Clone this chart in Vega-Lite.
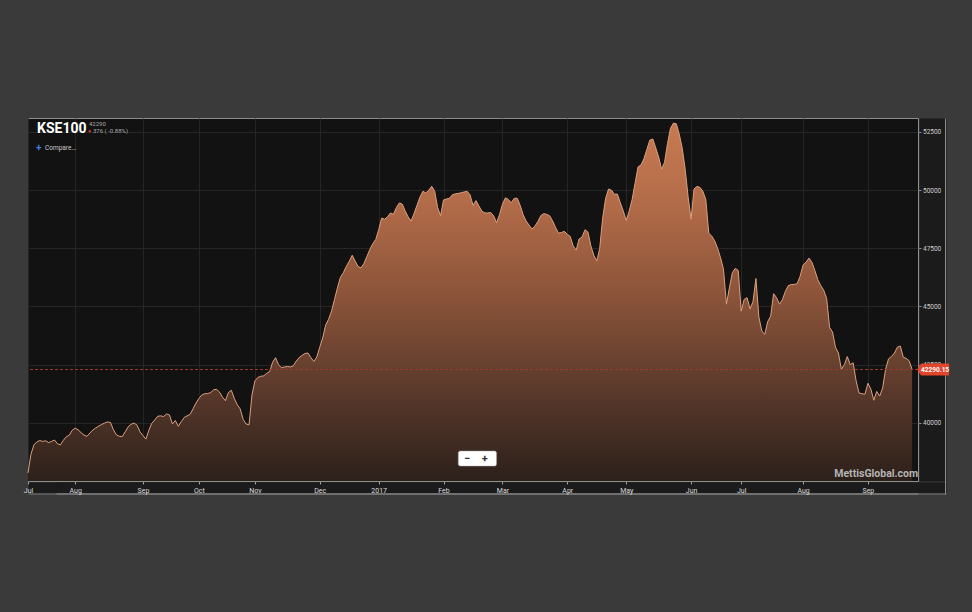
{
  "$schema": "https://vega.github.io/schema/vega-lite/v6.json",
  "width": 890,
  "height": 363,
  "autosize": {"type": "none"},
  "padding": {"left": 28, "top": 118, "right": 54, "bottom": 131},
  "background": "#3a3a3a",
  "config": {
    "view": {"fill": "#121212", "stroke": "#8e8e8e", "strokeWidth": 1},
    "font": "Roboto",
    "axis": {"labelFont": "Roboto"}
  },
  "resolve": {"axis": {"x": "independent", "y": "independent"}},
  "data": {"values": [
    {"date":"2016-07-01","close":37850},{"date":"2016-07-11","close":38650},{"date":"2016-07-12","close":39050},{"date":"2016-07-13","close":39180},{"date":"2016-07-14","close":39240},{"date":"2016-07-15","close":39200},{"date":"2016-07-18","close":39230},{"date":"2016-07-19","close":39150},{"date":"2016-07-20","close":39200},{"date":"2016-07-21","close":39260},{"date":"2016-07-22","close":39100},{"date":"2016-07-25","close":39050},{"date":"2016-07-26","close":39250},{"date":"2016-07-27","close":39400},{"date":"2016-07-28","close":39470},{"date":"2016-07-29","close":39680},
    {"date":"2016-08-01","close":39770},{"date":"2016-08-02","close":39700},{"date":"2016-08-03","close":39580},{"date":"2016-08-04","close":39470},{"date":"2016-08-05","close":39420},{"date":"2016-08-08","close":39560},{"date":"2016-08-09","close":39690},{"date":"2016-08-10","close":39780},{"date":"2016-08-11","close":39860},{"date":"2016-08-12","close":39930},{"date":"2016-08-15","close":39990},{"date":"2016-08-16","close":40040},{"date":"2016-08-17","close":40010},{"date":"2016-08-18","close":39700},{"date":"2016-08-19","close":39480},{"date":"2016-08-22","close":39420},{"date":"2016-08-23","close":39410},{"date":"2016-08-24","close":39620},{"date":"2016-08-25","close":39830},{"date":"2016-08-26","close":39940},{"date":"2016-08-29","close":39990},{"date":"2016-08-30","close":39900},{"date":"2016-08-31","close":39620},
    {"date":"2016-09-01","close":39450},{"date":"2016-09-02","close":39300},{"date":"2016-09-05","close":39680},{"date":"2016-09-06","close":39980},{"date":"2016-09-07","close":40120},{"date":"2016-09-08","close":40280},{"date":"2016-09-09","close":40300},{"date":"2016-09-15","close":40270},{"date":"2016-09-16","close":40380},{"date":"2016-09-19","close":40340},{"date":"2016-09-20","close":39950},{"date":"2016-09-21","close":40100},{"date":"2016-09-22","close":39850},{"date":"2016-09-23","close":40050},{"date":"2016-09-26","close":40230},{"date":"2016-09-27","close":40300},{"date":"2016-09-28","close":40360},{"date":"2016-09-29","close":40600},{"date":"2016-09-30","close":40850},
    {"date":"2016-10-03","close":41050},{"date":"2016-10-04","close":41200},{"date":"2016-10-05","close":41250},{"date":"2016-10-06","close":41260},{"date":"2016-10-07","close":41300},{"date":"2016-10-10","close":41420},{"date":"2016-10-13","close":41440},{"date":"2016-10-14","close":41320},{"date":"2016-10-17","close":41100},{"date":"2016-10-18","close":40950},{"date":"2016-10-19","close":41300},{"date":"2016-10-20","close":41400},{"date":"2016-10-21","close":41050},{"date":"2016-10-24","close":40780},{"date":"2016-10-25","close":40600},{"date":"2016-10-26","close":40150},{"date":"2016-10-27","close":39950},{"date":"2016-10-28","close":39910},{"date":"2016-10-31","close":41200},
    {"date":"2016-11-01","close":41800},{"date":"2016-11-02","close":41950},{"date":"2016-11-03","close":42000},{"date":"2016-11-04","close":42020},{"date":"2016-11-07","close":42130},{"date":"2016-11-08","close":42200},{"date":"2016-11-09","close":42600},{"date":"2016-11-10","close":42800},{"date":"2016-11-11","close":42500},{"date":"2016-11-14","close":42370},{"date":"2016-11-15","close":42400},{"date":"2016-11-16","close":42420},{"date":"2016-11-17","close":42400},{"date":"2016-11-18","close":42450},{"date":"2016-11-21","close":42650},{"date":"2016-11-22","close":42800},{"date":"2016-11-23","close":42900},{"date":"2016-11-24","close":42980},{"date":"2016-11-25","close":43000},{"date":"2016-11-28","close":42800},{"date":"2016-11-29","close":42640},{"date":"2016-11-30","close":42830},
    {"date":"2016-12-01","close":43250},{"date":"2016-12-02","close":43650},{"date":"2016-12-05","close":44200},{"date":"2016-12-06","close":44450},{"date":"2016-12-07","close":44800},{"date":"2016-12-08","close":45300},{"date":"2016-12-09","close":45800},{"date":"2016-12-13","close":46250},{"date":"2016-12-14","close":46450},{"date":"2016-12-15","close":46720},{"date":"2016-12-16","close":46940},{"date":"2016-12-19","close":47200},{"date":"2016-12-20","close":46950},{"date":"2016-12-21","close":46720},{"date":"2016-12-22","close":46660},{"date":"2016-12-23","close":46850},{"date":"2016-12-27","close":47150},{"date":"2016-12-28","close":47450},{"date":"2016-12-29","close":47700},{"date":"2016-12-30","close":47880},
    {"date":"2017-01-02","close":48300},{"date":"2017-01-03","close":48800},{"date":"2017-01-04","close":48750},{"date":"2017-01-05","close":48850},{"date":"2017-01-06","close":49020},{"date":"2017-01-09","close":48960},{"date":"2017-01-10","close":49250},{"date":"2017-01-11","close":49450},{"date":"2017-01-12","close":49400},{"date":"2017-01-13","close":49100},{"date":"2017-01-16","close":48850},{"date":"2017-01-17","close":48670},{"date":"2017-01-18","close":49000},{"date":"2017-01-19","close":49350},{"date":"2017-01-20","close":49700},{"date":"2017-01-23","close":49950},{"date":"2017-01-24","close":49880},{"date":"2017-01-25","close":50000},{"date":"2017-01-26","close":50170},{"date":"2017-01-27","close":49950},{"date":"2017-01-30","close":49250},{"date":"2017-01-31","close":48900},
    {"date":"2017-02-01","close":49580},{"date":"2017-02-02","close":49620},{"date":"2017-02-03","close":49650},{"date":"2017-02-06","close":49800},{"date":"2017-02-07","close":49840},{"date":"2017-02-08","close":49860},{"date":"2017-02-09","close":49890},{"date":"2017-02-10","close":49920},{"date":"2017-02-13","close":49950},{"date":"2017-02-14","close":49800},{"date":"2017-02-15","close":49350},{"date":"2017-02-16","close":49550},{"date":"2017-02-17","close":49320},{"date":"2017-02-20","close":49100},{"date":"2017-02-21","close":49020},{"date":"2017-02-22","close":49020},{"date":"2017-02-23","close":49040},{"date":"2017-02-24","close":48900},{"date":"2017-02-27","close":48600},{"date":"2017-02-28","close":48950},
    {"date":"2017-03-01","close":49400},{"date":"2017-03-02","close":49670},{"date":"2017-03-03","close":49600},{"date":"2017-03-06","close":49460},{"date":"2017-03-07","close":49650},{"date":"2017-03-08","close":49650},{"date":"2017-03-09","close":49350},{"date":"2017-03-10","close":48950},{"date":"2017-03-13","close":48680},{"date":"2017-03-14","close":48500},{"date":"2017-03-15","close":48330},{"date":"2017-03-16","close":48450},{"date":"2017-03-17","close":48650},{"date":"2017-03-20","close":48900},{"date":"2017-03-21","close":48990},{"date":"2017-03-22","close":48960},{"date":"2017-03-24","close":48900},{"date":"2017-03-27","close":48680},{"date":"2017-03-28","close":48400},{"date":"2017-03-29","close":48150},{"date":"2017-03-30","close":48180},{"date":"2017-03-31","close":48230},
    {"date":"2017-04-03","close":48100},{"date":"2017-04-04","close":48010},{"date":"2017-04-05","close":47600},{"date":"2017-04-06","close":47420},{"date":"2017-04-07","close":47900},{"date":"2017-04-10","close":47980},{"date":"2017-04-11","close":48300},{"date":"2017-04-12","close":48200},{"date":"2017-04-13","close":47600},{"date":"2017-04-14","close":47200},{"date":"2017-04-17","close":46950},{"date":"2017-04-18","close":47500},{"date":"2017-04-19","close":48800},{"date":"2017-04-20","close":49650},{"date":"2017-04-21","close":50050},{"date":"2017-04-24","close":50000},{"date":"2017-04-25","close":49820},{"date":"2017-04-26","close":49830},{"date":"2017-04-27","close":49450},{"date":"2017-04-28","close":49100},
    {"date":"2017-05-02","close":48700},{"date":"2017-05-03","close":49100},{"date":"2017-05-04","close":49600},{"date":"2017-05-05","close":50300},{"date":"2017-05-08","close":51000},{"date":"2017-05-09","close":51080},{"date":"2017-05-10","close":51350},{"date":"2017-05-11","close":51750},{"date":"2017-05-12","close":52150},{"date":"2017-05-15","close":52200},{"date":"2017-05-16","close":51820},{"date":"2017-05-17","close":51420},{"date":"2017-05-18","close":50900},{"date":"2017-05-19","close":51200},{"date":"2017-05-22","close":52000},{"date":"2017-05-23","close":52650},{"date":"2017-05-24","close":52880},{"date":"2017-05-25","close":52850},{"date":"2017-05-26","close":52400},{"date":"2017-05-29","close":51800},{"date":"2017-05-30","close":50900},{"date":"2017-05-31","close":49700},
    {"date":"2017-06-01","close":48750},{"date":"2017-06-02","close":50050},{"date":"2017-06-05","close":50160},{"date":"2017-06-06","close":50120},{"date":"2017-06-07","close":49950},{"date":"2017-06-08","close":49600},{"date":"2017-06-09","close":48150},{"date":"2017-06-12","close":48030},{"date":"2017-06-13","close":47820},{"date":"2017-06-14","close":47500},{"date":"2017-06-15","close":47100},{"date":"2017-06-16","close":46600},{"date":"2017-06-19","close":45100},{"date":"2017-06-20","close":45800},{"date":"2017-06-21","close":46450},{"date":"2017-06-22","close":46640},{"date":"2017-06-23","close":46550},
    {"date":"2017-07-03","close":44800},{"date":"2017-07-04","close":45300},{"date":"2017-07-05","close":45380},{"date":"2017-07-06","close":44900},{"date":"2017-07-07","close":45200},{"date":"2017-07-10","close":46200},{"date":"2017-07-11","close":44550},{"date":"2017-07-12","close":43950},{"date":"2017-07-13","close":43800},{"date":"2017-07-14","close":44350},{"date":"2017-07-17","close":44580},{"date":"2017-07-18","close":45550},{"date":"2017-07-19","close":45380},{"date":"2017-07-20","close":45100},{"date":"2017-07-21","close":45300},{"date":"2017-07-24","close":45650},{"date":"2017-07-25","close":45900},{"date":"2017-07-26","close":45940},{"date":"2017-07-27","close":45950},{"date":"2017-07-28","close":45980},{"date":"2017-07-31","close":46300},
    {"date":"2017-08-01","close":46780},{"date":"2017-08-02","close":46900},{"date":"2017-08-03","close":47080},{"date":"2017-08-04","close":46900},{"date":"2017-08-07","close":46550},{"date":"2017-08-08","close":46150},{"date":"2017-08-09","close":45900},{"date":"2017-08-10","close":45700},{"date":"2017-08-11","close":45350},{"date":"2017-08-15","close":44100},{"date":"2017-08-16","close":43900},{"date":"2017-08-17","close":43250},{"date":"2017-08-18","close":43000},{"date":"2017-08-21","close":42300},{"date":"2017-08-22","close":42500},{"date":"2017-08-23","close":42850},{"date":"2017-08-24","close":42500},{"date":"2017-08-25","close":42580},{"date":"2017-08-28","close":41800},{"date":"2017-08-29","close":41280},{"date":"2017-08-30","close":41250},{"date":"2017-08-31","close":41230},
    {"date":"2017-09-05","close":41700},{"date":"2017-09-06","close":41450},{"date":"2017-09-07","close":40970},{"date":"2017-09-08","close":41350},{"date":"2017-09-11","close":41150},{"date":"2017-09-12","close":41500},{"date":"2017-09-13","close":42300},{"date":"2017-09-14","close":42750},{"date":"2017-09-15","close":42850},{"date":"2017-09-18","close":43000},{"date":"2017-09-19","close":43250},{"date":"2017-09-20","close":43300},{"date":"2017-09-21","close":42820},{"date":"2017-09-22","close":42770},{"date":"2017-09-25","close":42666},{"date":"2017-09-26","close":42290.15}
  ]},
  "layer": [
    {
      "data": {"values": [{}]},
      "mark": {"type": "text", "text": "KSE100", "align": "left", "baseline": "middle", "dx": 9, "dy": 11, "fontSize": 14, "fontWeight": "bold", "color": "#ffffff"},
      "encoding": {
        "x": {"datum": "2016-07-01", "type": "ordinal",
              "axis": {"orient": "bottom", "labels": false, "ticks": false, "grid": false, "offset": 7, "domainWidth": 12, "domainColor": "#1b1b1b", "title": null}},
        "y": {"datum": 53100, "type": "quantitative",
              "axis": {"orient": "right", "labels": false, "ticks": false, "grid": false, "offset": 14.5, "domainWidth": 27, "domainColor": "#1b1b1b", "title": null}}
      }
    },
    {
      "data": {"values": [{}]},
      "mark": {"type": "text", "text": "42290", "align": "left", "baseline": "middle", "dx": 61, "dy": 6, "fontSize": 6, "color": "#a8a8a8"},
      "encoding": {
        "x": {"datum": "2016-07-01", "type": "ordinal",
              "axis": {"orient": "bottom", "labels": false, "ticks": false, "grid": false, "translate": 28.5, "offset": -21, "domainWidth": 12, "domainColor": "#1b1b1b", "title": null}},
        "y": {"datum": 53100, "type": "quantitative",
              "axis": {"orient": "right", "labels": false, "ticks": false, "grid": false, "offset": 27, "domainWidth": 1, "domainColor": "#8c8c8c", "title": null}}
      }
    },
    {
      "data": {"values": [{}]},
      "mark": {"type": "text", "text": "♦", "align": "left", "baseline": "middle", "dx": 60, "dy": 13, "fontSize": 6, "color": "#e0302a"},
      "encoding": {
        "x": {"datum": "2016-07-01", "type": "ordinal",
              "axis": {"orient": "bottom", "labels": false, "ticks": false, "grid": false, "translate": 28.5, "offset": -15.5, "domainWidth": 1, "domainColor": "#8c8c8c", "title": null}},
        "y": {"datum": 53100, "type": "quantitative",
              "axis": {"orient": "right", "labels": false, "ticks": false, "grid": false, "translate": 13.5, "offset": 14, "domainWidth": 1, "domainColor": "#8c8c8c", "title": null}}
      }
    },
    {
      "data": {"values": [{}]},
      "mark": {"type": "text", "text": "376 ( -0.88%)", "align": "left", "baseline": "middle", "dx": 65, "dy": 13, "fontSize": 6, "color": "#a8a8a8"},
      "encoding": {
        "x": {"datum": "2016-07-01", "type": "ordinal",
              "axis": {"orient": "bottom", "labels": false, "ticks": false, "grid": false, "offset": 12.5, "domainWidth": 1, "domainColor": "#8c8c8c", "title": null}},
        "y": {"datum": 53100, "type": "quantitative", "axis": null}
      }
    },
    {
      "data": {"values": [{}]},
      "mark": {"type": "text", "text": "+", "align": "left", "baseline": "middle", "dx": 8, "dy": 30, "fontSize": 10, "fontWeight": "bold", "color": "#3f7ee0"},
      "encoding": {"x": {"datum": "2016-07-01", "type": "ordinal", "axis": null}, "y": {"datum": 53100, "type": "quantitative", "axis": null}}
    },
    {
      "data": {"values": [{}]},
      "mark": {"type": "text", "text": "Compare...", "align": "left", "baseline": "middle", "dx": 17, "dy": 30, "fontSize": 6.5, "color": "#c8c8c8"},
      "encoding": {"x": {"datum": "2016-07-01", "type": "ordinal", "axis": null}, "y": {"datum": 53100, "type": "quantitative", "axis": null}}
    },
    {
      "mark": {
        "type": "area",
        "opacity": 1,
        "fillOpacity": 1,
        "color": {
          "gradient": "linear", "x1": 0, "y1": 0, "x2": 0, "y2": 1,
          "stops": [
            {"offset": 0, "color": "#c77a51"},
            {"offset": 0.22, "color": "#b36c49"},
            {"offset": 0.49, "color": "#8a5339"},
            {"offset": 0.77, "color": "#56372a"},
            {"offset": 1, "color": "#2c201a"}
          ]
        },
        "line": {"color": "#dca07d", "strokeWidth": 1}
      },
      "encoding": {
        "x": {
          "field": "date", "type": "ordinal",
          "scale": {"type": "point", "padding": 1.5, "align": 0, "round": false},
          "axis": {
            "orient": "bottom",
            "values": ["2016-07-01","2016-08-01","2016-09-01","2016-10-03","2016-11-01","2016-12-01","2017-01-02","2017-02-01","2017-03-01","2017-04-03","2017-05-02","2017-06-01","2017-07-03","2017-08-01","2017-09-05"],
            "labelExpr": "utcFormat(toDate(datum.value), '%m') == '01' ? utcFormat(toDate(datum.value), '%Y') : utcFormat(toDate(datum.value), '%b')",
            "labelAngle": 0,
            "labelColor": "#dcdcdc",
            "labelFontSize": 7,
            "labelPadding": 2.5,
            "domain": false,
            "tickColor": "#a0a0a0",
            "tickSize": 3,
            "grid": true,
            "gridColor": "#252525",
            "title": null
          }
        },
        "y": {
          "field": "close", "type": "quantitative",
          "scale": {"domain": [37500, 53100], "nice": false, "zero": false},
          "axis": {
            "orient": "right",
            "values": [40000, 42500, 45000, 47500, 50000, 52500],
            "format": "d",
            "labelColor": "#cfcfcf",
            "labelFontSize": 6.5,
            "labelPadding": 1.5,
            "domain": false,
            "tickColor": "#8a8a8a",
            "tickSize": 3,
            "grid": true,
            "gridColor": "#262626",
            "title": null
          }
        },
        "y2": {"datum": 37500}
      }
    },
    {
      "data": {"values": [{}]},
      "mark": {"type": "rule", "color": "#9c3a2a", "strokeDash": [3, 2], "strokeWidth": 1},
      "encoding": {"y": {"datum": 42290.15, "type": "quantitative", "axis": null}}
    },
    {
      "data": {"values": [{}]},
      "mark": {"type": "point", "filled": true, "shape": "M0.25,0L0.45,-0.3L1.85,-0.3L1.85,0.3L0.45,0.3Z", "size": 1600, "color": "#e2452b", "opacity": 1},
      "encoding": {"x": {"datum": "2017-09-26", "type": "ordinal", "axis": null}, "y": {"datum": 42290.15, "type": "quantitative", "axis": null}}
    },
    {
      "data": {"values": [{}]},
      "mark": {"type": "text", "text": "42290.15", "align": "center", "baseline": "middle", "dx": 23, "fontSize": 6.5, "fontWeight": "bold", "color": "#ffffff"},
      "encoding": {"x": {"datum": "2017-09-26", "type": "ordinal", "axis": null}, "y": {"datum": 42290.15, "type": "quantitative", "axis": null}}
    },
    {
      "data": {"values": [{}]},
      "mark": {"type": "text", "text": "MettisGlobal.com", "align": "right", "baseline": "middle", "dx": 6, "dy": -7, "fontSize": 10.5, "fontWeight": "bold", "color": "#b4b4b4"},
      "encoding": {"x": {"datum": "2017-09-26", "type": "ordinal", "axis": null}, "y": {"datum": 37500, "type": "quantitative", "axis": null}}
    },
    {
      "data": {"values": [{}]},
      "mark": {"type": "rect", "color": "#ffffff", "cornerRadius": 2, "stroke": "#9a9a9a", "strokeWidth": 0.5},
      "encoding": {
        "x": {"datum": "2017-02-08", "type": "ordinal", "axis": null},
        "x2": {"datum": "2017-02-27"},
        "y": {"datum": 38790, "type": "quantitative", "axis": null},
        "y2": {"datum": 38140}
      }
    },
    {
      "data": {"values": [{}]},
      "mark": {"type": "text", "text": "−", "align": "center", "baseline": "middle", "fontSize": 11, "fontWeight": "bold", "color": "#333333"},
      "encoding": {"x": {"datum": "2017-02-13", "type": "ordinal", "axis": null}, "y": {"datum": 38465, "type": "quantitative", "axis": null}}
    },
    {
      "data": {"values": [{}]},
      "mark": {"type": "text", "text": "+", "align": "center", "baseline": "middle", "fontSize": 11, "fontWeight": "bold", "color": "#333333"},
      "encoding": {"x": {"datum": "2017-02-21", "type": "ordinal", "axis": null}, "y": {"datum": 38465, "type": "quantitative", "axis": null}}
    }
  ]
}
